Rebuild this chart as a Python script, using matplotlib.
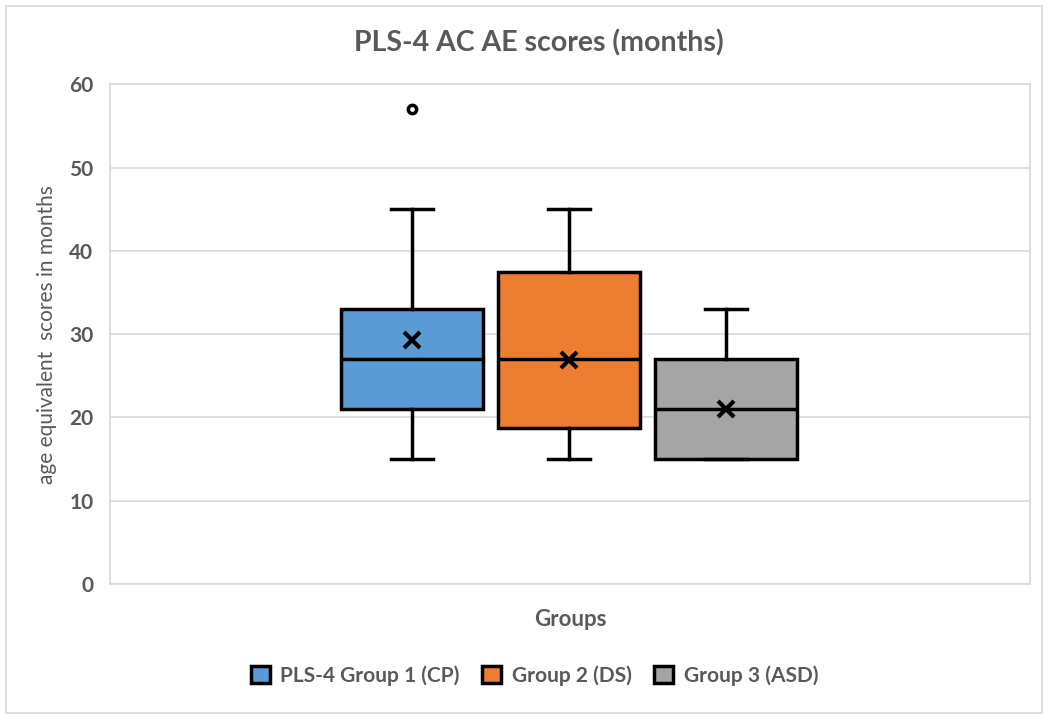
import matplotlib.pyplot as plt
from matplotlib.patches import Patch, Rectangle

# Summary statistics per group (months)
groups = ['PLS-4 Group 1 (CP)', 'Group 2 (DS)', 'Group 3 (ASD)']
colors = ['#5b9bd5', '#ed7d31', '#a5a5a5']
q1 = [21, 18.75, 15]
median = [27, 27, 21]
q3 = [33, 37.5, 27]
whislo = [15, 15, 15]
whishi = [45, 45, 33]
means = [29.3, 26.9, 21]
outliers = [[57], [], []]

plt.rcParams['font.family'] = ['Lato', 'DejaVu Sans']
grey = '#595959'

fig = plt.figure(figsize=(10.48, 7.17), dpi=100)
ax = fig.add_axes([0.105, 0.1855, 0.878, 0.697])

stats = []
for i in range(len(groups)):
    stats.append({'label': groups[i], 'q1': q1[i], 'med': median[i], 'q3': q3[i],
                  'whislo': whislo[i], 'whishi': whishi[i], 'mean': means[i],
                  'fliers': outliers[i]})

bp = ax.bxp(stats, positions=[1, 2, 3], widths=0.905, capwidths=0.27,
            patch_artist=True, showmeans=True,
            boxprops=dict(linewidth=2.5, edgecolor='black'),
            medianprops=dict(color='black', linewidth=2.5),
            whiskerprops=dict(color='black', linewidth=2.5),
            capprops=dict(color='black', linewidth=2.5),
            meanprops=dict(marker='x', markeredgecolor='black', markersize=11,
                           markeredgewidth=3),
            flierprops=dict(marker='o', markerfacecolor='white',
                            markeredgecolor='black', markersize=6,
                            markeredgewidth=2.5))
for box, c in zip(bp['boxes'], colors):
    box.set_facecolor(c)

ax.set_xlim(-0.924, 4.936)
ax.set_ylim(0, 60)
ax.set_yticks(range(0, 61, 10))
ax.set_xticks([])
ax.yaxis.grid(True, color='#d9d9d9', linewidth=1.2)
ax.set_axisbelow(True)
for s in ax.spines.values():
    s.set_color('#d9d9d9')
    s.set_linewidth(1.2)
ax.tick_params(axis='y', length=0, pad=12, labelsize=15, labelcolor=grey)
for t in ax.get_yticklabels():
    t.set_fontweight('bold')

ax.set_ylabel('age equivalent  scores in months', fontsize=15, color=grey, labelpad=9)
ax.set_xlabel('Groups', fontsize=16, color=grey, fontweight='bold', labelpad=18)
fig.text(0.514, 0.94, 'PLS-4 AC AE scores (months)', ha='center', va='center',
         fontsize=20.5, fontweight='bold', color=grey)

handles = [Patch(facecolor=c, edgecolor='black', linewidth=2.5) for c in colors]
leg = fig.legend(handles, groups, loc='center', bbox_to_anchor=(0.51, 0.058), ncol=3,
                 frameon=False, handlelength=0.9, handleheight=0.9, handletextpad=0.5,
                 columnspacing=1.1, prop={'size': 15, 'weight': 'bold'})
for t in leg.get_texts():
    t.set_color(grey)

fig.patches.append(Rectangle((0.006, 0.006), 0.988, 0.986, transform=fig.transFigure,
                             fill=False, edgecolor='#d9d9d9', linewidth=1.2))

fig.savefig('out.png', dpi=100)
